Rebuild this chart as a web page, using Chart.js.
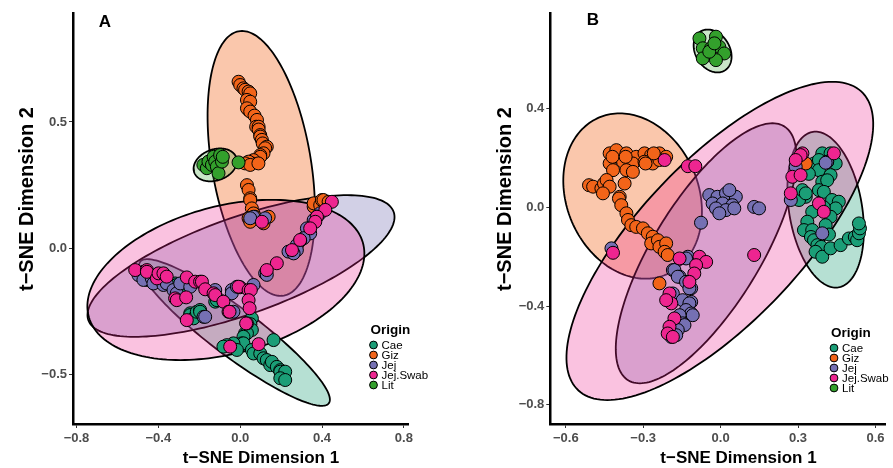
<!DOCTYPE html>
<html><head><meta charset="utf-8">
<script src="https://cdn.jsdelivr.net/npm/chart.js@4.4.1/dist/chart.umd.min.js"></script>
<style>
html,body{margin:0;padding:0;background:#fff;}
#wrap{position:relative;width:893px;height:468px;overflow:hidden;}
#ca{position:absolute;left:0;top:0;}
#cb{position:absolute;left:446px;top:0;}
</style></head><body>
<div id="wrap"><canvas id="ca" width="446" height="468"></canvas><canvas id="cb" width="447" height="468"></canvas></div>
<script>
// ---------- categories & styling keys ----------
const groups = ['Cae','Giz','Jej','Jej.Swab','Lit'];
const colors = ['#1B9E77','#F26419','#7570B3','#EE2590','#33A02C'];
const fillAlpha = [0.32,0.36,0.33,0.28,0.26];
const drawOrder = [5,4,3,1,2];

// ---------- tick labels ----------
const A_xTicks = [-0.8,-0.4,0.0,0.4,0.8];
const A_yTicks = [-0.5,0.0,0.5];
const B_xTicks = [-0.6,-0.3,0.0,0.3,0.6];
const B_yTicks = [-0.8,-0.4,0.0,0.4];

// ---------- panel A points (t-SNE dim1, dim2) ----------
const A_Cae = [[-0.473,-0.093],[-0.456,-0.125],[-0.432,-0.125],[-0.318,-0.139],[-0.310,-0.145],[-0.285,-0.185],[-0.244,-0.257],[-0.244,-0.264],[-0.228,-0.277],[-0.212,-0.251],[-0.196,-0.244],[-0.196,-0.251],[-0.122,-0.211],[-0.114,-0.205],[0.057,-0.277],[0.050,-0.300],[0.057,-0.323],[0.024,-0.336],[0.033,-0.336],[0.016,-0.350],[0.008,-0.376],[0.016,-0.376],[-0.033,-0.376],[-0.065,-0.383],[-0.082,-0.389],[-0.016,-0.402],[0.057,-0.402],[0.065,-0.416],[0.098,-0.416],[0.114,-0.435],[0.130,-0.442],[0.147,-0.462],[0.155,-0.449],[0.163,-0.363],[0.179,-0.469],[0.196,-0.482],[0.196,-0.488],[0.212,-0.508],[0.220,-0.488],[0.196,-0.514],[0.220,-0.521]];
const A_Giz = [[-0.008,0.659],[0.000,0.646],[0.016,0.633],[0.024,0.627],[0.041,0.620],[0.049,0.613],[0.033,0.587],[0.049,0.580],[0.041,0.547],[0.033,0.554],[0.049,0.541],[0.070,0.525],[0.082,0.508],[0.078,0.481],[0.090,0.481],[0.090,0.470],[0.098,0.448],[0.098,0.442],[0.106,0.429],[0.110,0.415],[0.130,0.402],[0.122,0.396],[0.114,0.376],[0.098,0.369],[0.098,0.362],[0.065,0.349],[0.057,0.336],[0.041,0.343],[0.024,0.336],[0.049,0.330],[0.089,0.336],[0.033,0.250],[0.041,0.231],[0.049,0.198],[0.049,0.191],[0.057,0.158],[0.065,0.138],[0.073,0.125],[0.041,0.119],[0.049,0.105],[0.139,0.125],[0.114,0.099],[0.359,0.165],[0.359,0.178],[0.391,0.171],[0.399,0.191],[0.407,0.191],[0.432,0.184]];
const A_Jej = [[-0.497,-0.106],[-0.473,-0.125],[-0.432,-0.119],[-0.424,-0.139],[-0.375,-0.145],[-0.359,-0.139],[-0.326,-0.165],[-0.310,-0.178],[-0.293,-0.139],[-0.244,-0.152],[-0.179,-0.271],[-0.171,-0.271],[-0.122,-0.165],[-0.041,-0.165],[-0.041,-0.178],[-0.016,-0.152],[0.065,-0.145],[-0.033,-0.251],[0.391,0.139],[0.375,0.125],[0.359,0.112],[0.326,0.079],[0.342,0.059],[0.310,0.040],[0.293,0.030],[0.277,0.013],[0.277,-0.007],[0.236,-0.013],[0.261,-0.020],[0.122,-0.099],[0.130,-0.105],[0.065,0.125],[0.049,0.119],[0.122,0.119]];
const A_JejSwab = [[-0.513,-0.086],[-0.456,-0.086],[-0.456,-0.093],[-0.407,-0.119],[-0.399,-0.099],[-0.375,-0.099],[-0.359,-0.112],[-0.318,-0.198],[-0.310,-0.205],[-0.264,-0.194],[-0.261,-0.115],[-0.220,-0.132],[-0.196,-0.132],[-0.187,-0.132],[-0.171,-0.162],[-0.130,-0.178],[-0.122,-0.185],[-0.082,-0.211],[-0.057,-0.251],[-0.052,-0.251],[-0.261,-0.284],[0.000,-0.154],[-0.008,-0.152],[0.041,-0.165],[0.052,-0.165],[0.041,-0.205],[0.046,-0.237],[0.033,-0.297],[0.029,-0.297],[-0.049,-0.389],[0.090,-0.379],[0.448,0.184],[0.416,0.152],[0.375,0.125],[0.367,0.105],[0.342,0.079],[0.293,0.033],[0.253,-0.007],[0.179,-0.059],[0.130,-0.086],[0.106,0.105]];
const A_Lit = [[-0.180,0.330],[-0.163,0.317],[-0.155,0.343],[-0.138,0.330],[-0.130,0.362],[-0.122,0.343],[-0.114,0.323],[-0.106,0.297],[-0.098,0.369],[-0.089,0.343],[-0.085,0.362],[-0.008,0.340]];

// ---------- panel B points ----------
const B_Cae = [[0.362,0.178],[0.394,0.219],[0.426,0.219],[0.446,0.178],[0.413,0.185],[0.381,0.192],[0.381,0.151],[0.426,0.131],[0.342,0.136],[0.394,0.104],[0.413,0.110],[0.381,0.070],[0.400,0.063],[0.330,0.043],[0.304,0.030],[0.317,0.070],[0.330,0.057],[0.432,0.030],[0.458,0.023],[0.446,-0.004],[0.400,0.000],[0.355,-0.018],[0.426,-0.038],[0.336,-0.058],[0.323,-0.092],[0.355,-0.092],[0.407,-0.072],[0.420,-0.110],[0.350,-0.120],[0.362,-0.133],[0.375,-0.153],[0.390,-0.160],[0.368,-0.180],[0.394,-0.200],[0.426,-0.166],[0.465,-0.153],[0.497,-0.126],[0.520,-0.120],[0.529,-0.133],[0.536,-0.105],[0.540,-0.085],[0.536,-0.065]];
const B_Giz = [[-0.430,0.219],[-0.404,0.232],[-0.365,0.219],[-0.327,0.205],[-0.295,0.219],[-0.269,0.212],[-0.237,0.219],[-0.211,0.205],[-0.430,0.178],[-0.378,0.185],[-0.340,0.178],[-0.295,0.185],[-0.263,0.178],[-0.237,0.192],[-0.417,0.151],[-0.365,0.151],[-0.340,0.144],[-0.510,0.090],[-0.494,0.084],[-0.462,0.077],[-0.452,0.097],[-0.442,0.111],[-0.430,0.084],[-0.456,0.057],[-0.372,0.097],[-0.391,0.043],[-0.394,0.036],[-0.385,0.009],[-0.365,-0.024],[-0.359,-0.051],[-0.346,-0.072],[-0.327,-0.079],[-0.301,-0.085],[-0.282,-0.105],[-0.263,-0.119],[-0.269,-0.146],[-0.243,-0.133],[-0.237,-0.160],[-0.211,-0.146],[-0.217,-0.180],[-0.205,-0.193],[-0.237,-0.308],[-0.419,0.205],[-0.368,0.205],[-0.291,0.178],[-0.259,0.219],[0.330,0.178]];
const B_Jej = [[-0.044,0.050],[-0.012,0.043],[0.021,0.057],[0.059,0.043],[0.034,0.070],[-0.031,0.016],[0.008,0.016],[0.046,0.009],[-0.018,-0.004],[0.021,-0.011],[0.053,-0.004],[-0.005,-0.024],[-0.076,-0.062],[0.130,0.002],[0.149,-0.004],[-0.127,-0.200],[-0.134,-0.207],[-0.185,-0.254],[-0.179,-0.254],[-0.159,-0.281],[-0.166,-0.281],[-0.134,-0.302],[-0.114,-0.328],[-0.121,-0.328],[-0.185,-0.349],[-0.147,-0.376],[-0.114,-0.383],[-0.121,-0.389],[-0.134,-0.416],[-0.114,-0.430],[-0.108,-0.437],[-0.159,-0.437],[-0.147,-0.470],[-0.140,-0.477],[-0.166,-0.497],[-0.172,-0.518],[-0.191,-0.525],[-0.423,-0.166],[0.413,0.185],[0.407,0.181],[0.394,-0.105],[0.272,0.030],[0.291,0.165]];
const B_JejSwab = [[-0.217,0.192],[-0.127,0.167],[-0.098,0.167],[-0.417,-0.184],[0.130,-0.193],[-0.159,-0.207],[-0.082,-0.200],[-0.056,-0.221],[-0.095,-0.234],[-0.102,-0.268],[-0.121,-0.302],[-0.198,-0.349],[-0.191,-0.389],[-0.179,-0.450],[-0.198,-0.484],[-0.205,-0.511],[-0.185,-0.525],[-0.211,-0.376],[0.317,0.219],[0.310,0.212],[0.291,0.192],[0.278,0.124],[0.310,0.131],[0.272,0.057],[0.381,0.016],[0.400,-0.018],[0.439,0.219]];
const B_Lit = [[-0.082,0.685],[-0.018,0.692],[-0.069,0.645],[-0.037,0.645],[-0.005,0.651],[0.014,0.624],[-0.069,0.604],[-0.018,0.597],[-0.044,0.631],[-0.024,0.665]];

// ---------- 95% ellipses: centre (x,y), semi-diameter 1 (x,y), conjugate semi-diameter 2 (x,y) ----------
const A_ellipses = [
  [-0.028,-0.333, 0.461,-0.280, 0.070, 0.076],
  [ 0.103, 0.336,-0.094, 0.524, 0.245, 0.000],
  [ 0.004,-0.070, 0.746, 0.214, 0.079,-0.181],
  [-0.070,-0.125, 0.223, 0.317, 0.639, 0.000],
  [-0.122, 0.330, 0.024, 0.065, 0.103, 0.000]];
const B_ellipses = [
  [ 0.407,-0.009,-0.039, 0.316, 0.143, 0.000],
  [-0.341, 0.046,-0.050, 0.335, 0.264, 0.000],
  [-0.056,-0.186, 0.257, 0.527, 0.238, 0.000],
  [-0.003,-0.136, 0.436, 0.645, 0.404, 0.000],
  [-0.031, 0.634,-0.019, 0.087, 0.071, 0.000]];

const FONT = "'Liberation Sans', Arial, sans-serif";

function rgba(hex,a){const n=parseInt(hex.slice(1),16);return `rgba(${n>>16&255},${n>>8&255},${n&255},${a})`;}
function fmt(v){return (v<0?'\u2212':'')+Math.abs(v).toFixed(1);}

function ellipsePlugin(ells){
  return {id:'ellipses', beforeDatasetsDraw(chart){
    const ctx=chart.ctx, xs=chart.scales.x, ys=chart.scales.y;
    ells.forEach((e,i)=>{
      ctx.save(); ctx.beginPath();
      const N=180;
      for(let k=0;k<=N;k++){
        const t=k/N*2*Math.PI, c=Math.cos(t), s=Math.sin(t);
        const px=xs.getPixelForValue(e[0]+e[2]*c+e[4]*s);
        const py=ys.getPixelForValue(e[1]+e[3]*c+e[5]*s);
        if(k===0) ctx.moveTo(px,py); else ctx.lineTo(px,py);
      }
      ctx.closePath();
      ctx.fillStyle=rgba(colors[i],fillAlpha[i]); ctx.fill();
      ctx.lineWidth=1.8; ctx.strokeStyle='#000'; ctx.stroke();
      ctx.restore();
    });
  }};
}

function decoPlugin(cfg){
  return {id:'deco', afterDraw(chart){
    const ctx=chart.ctx;
    ctx.save();
    ctx.fillStyle='#000';
    ctx.textAlign='center'; ctx.textBaseline='middle';
    ctx.font=`bold 17px ${FONT}`;
    ctx.fillText(cfg.letter, cfg.letterX, cfg.letterY);
    ctx.fillText('t\u2212SNE Dimension 1', cfg.xtX, cfg.xtY);
    ctx.save(); ctx.translate(cfg.ytX, cfg.ytY); ctx.rotate(-Math.PI/2);
    ctx.font=`bold 20px ${FONT}`;
    ctx.fillText('t\u2212SNE Dimension 2', 0, 0);
    ctx.restore();
    // legend
    ctx.textAlign='left';
    ctx.font=`bold 13.5px ${FONT}`;
    ctx.fillText('Origin', cfg.legX-3, cfg.legY);
    ctx.font=`11.5px ${FONT}`;
    groups.forEach((g,i)=>{
      const yy=cfg.legY+15+i*10;
      ctx.beginPath(); ctx.arc(cfg.legX, yy, 3.9, 0, 2*Math.PI);
      ctx.fillStyle=colors[i]; ctx.fill();
      ctx.lineWidth=1; ctx.strokeStyle='#000'; ctx.stroke();
      ctx.fillStyle='#000';
      ctx.fillText(g, cfg.legX+8, yy+0.5);
    });
    ctx.restore();
  }};
}

function makeDatasets(sets){
  return sets.map((pts,i)=>({
    label: groups[i],
    data: pts.map(p=>({x:p[0],y:p[1]})),
    backgroundColor: colors[i], borderColor:'#000', borderWidth:1,
    pointRadius:6.5, pointHoverRadius:6.5, order: drawOrder[i]
  }));
}

function axis(min,max,ticksArr,isX,size){
  return {
    type:'linear', min, max,
    afterBuildTicks: s=>{ s.ticks = ticksArr.map(v=>({value:v})); },
    afterFit: s=>{ if(isX) s.height=size; else s.width=size; },
    ticks:{ callback: v=>fmt(v), color:'#4D4D4D', padding: isX?3:2,
            font:{family:FONT, size:13, weight:'bold'}, autoSkip:false, maxRotation:0 },
    grid:{ drawOnChartArea:false, drawTicks:true, tickLength:4, color:'#333', lineWidth:1 },
    border:{ display:true, color:'#000', width:2.5 }
  };
}

function makeChart(id, sets, ells, xr, yr, xt, yt, yw, padR, deco){
  return new Chart(document.getElementById(id), {
    type:'scatter',
    data:{ datasets: makeDatasets(sets) },
    options:{
      responsive:false, animation:false, events:[],
      layout:{ padding:{ left:0, right:padR, top:13, bottom:0 } },
      plugins:{ legend:{display:false}, tooltip:{enabled:false} },
      scales:{ x: axis(xr[0],xr[1],xt,true,44), y: axis(yr[0],yr[1],yt,false,yw) }
    },
    plugins:[ellipsePlugin(ells), decoPlugin(deco)]
  });
}

makeChart('ca', [A_Cae,A_Giz,A_Jej,A_JejSwab,A_Lit], A_ellipses,
  [-0.817,0.82], [-0.695,0.931], A_xTicks, A_yTicks, 73, 38,
  {letter:'A', letterX:105, letterY:22, xtX:261, xtY:458, ytX:27, ytY:199, legX:373.5, legY:330});
makeChart('cb', [B_Cae,B_Giz,B_Jej,B_JejSwab,B_Lit], B_ellipses,
  [-0.66,0.639], [-0.878,0.788], B_xTicks, B_yTicks, 104.3, 6.3,
  {letter:'B', letterX:147, letterY:20.5, xtX:292.5, xtY:458, ytX:59, ytY:199, legX:388, legY:333});
</script>
</body></html>
